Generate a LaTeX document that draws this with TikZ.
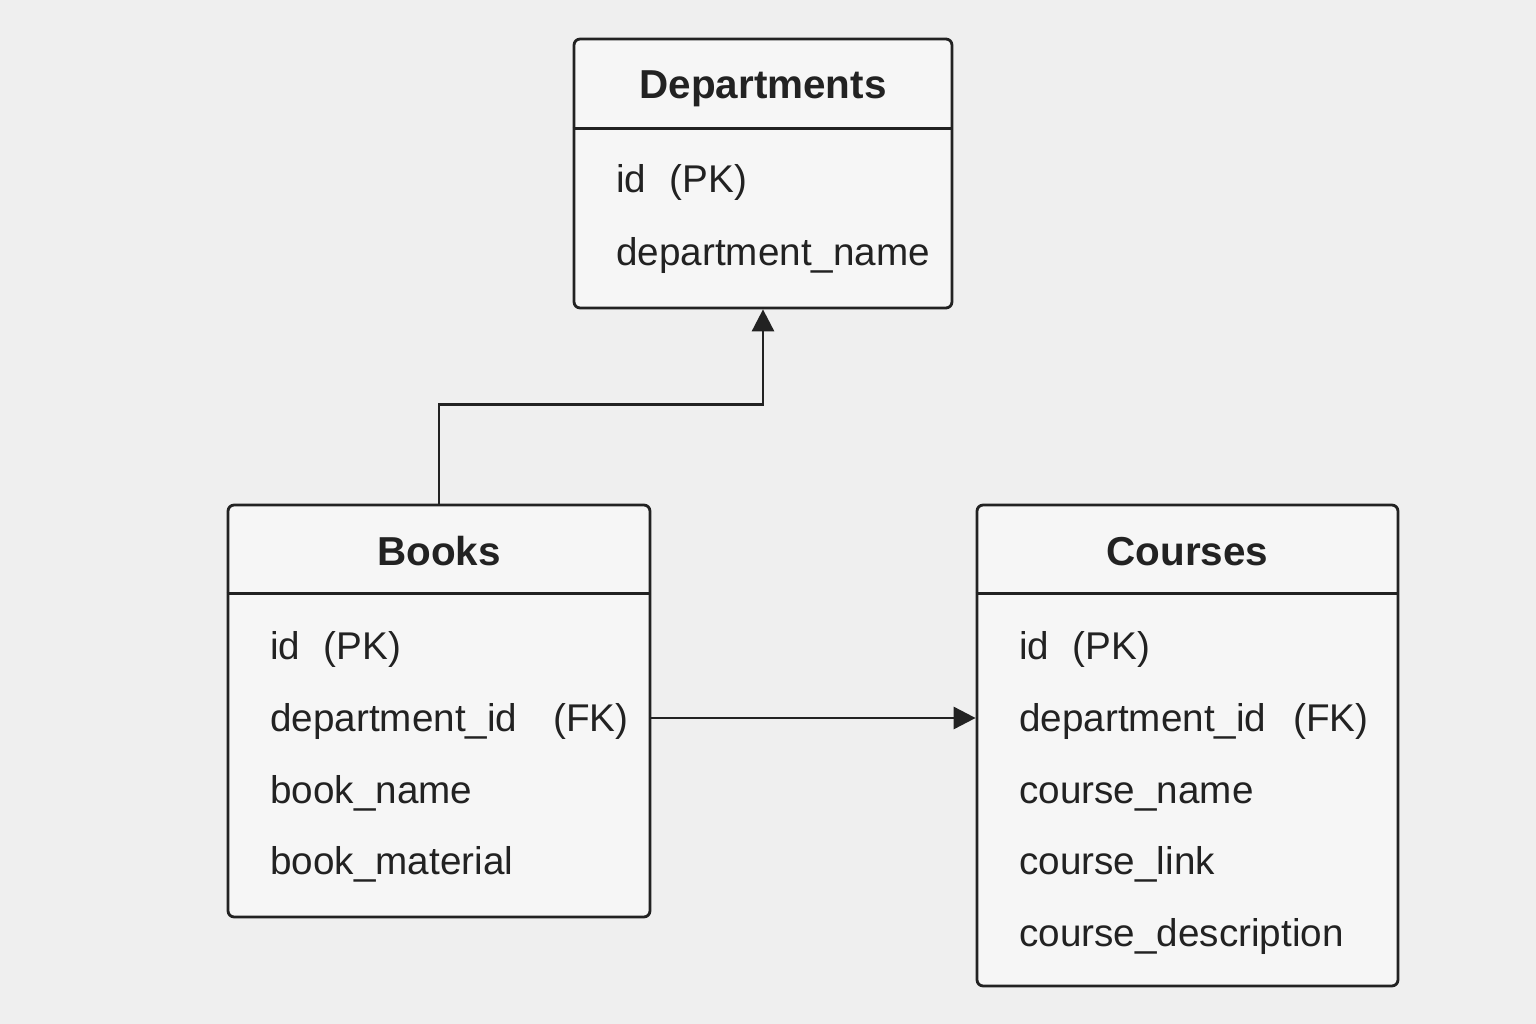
\documentclass[tikz,border=0pt]{standalone}
\usepackage{fontspec}
\setmainfont{Liberation Sans}
\usetikzlibrary{positioning}
\usetikzlibrary{arrows.meta}
\definecolor{bg}{HTML}{EFEFEF}
\definecolor{boxfill}{HTML}{F6F6F6}
\definecolor{ink}{HTML}{222222}

\begin{document}
\begin{tikzpicture}[x=0.02cm, y=-0.02cm,
  table/.style={draw=ink, line width=1.6pt, fill=boxfill, rounded corners=0.12cm, inner sep=0pt},
  title/.style={font=\fontsize{23}{28}\selectfont\bfseries, text=ink, anchor=base, inner sep=0pt},
  field/.style={font=\fontsize{22}{26}\selectfont, text=ink, anchor=base west, inner sep=0pt},
  rule/.style={draw=ink, line width=1.6pt},
  link/.style={draw=ink, line width=1.6pt, -{Triangle[length=0.44cm, width=0.44cm]}}]
%background
\fill[bg] (0,0) rectangle (1536,1024);
\useasboundingbox (0,0) rectangle (1536,1024);

%tables
\node[table, minimum width=7.56cm, minimum height=5.38cm] (dept) at (763,173.5) {};
\node[table, minimum width=8.44cm, minimum height=8.24cm] (books) at (439,711) {};
\node[table, minimum width=8.42cm, minimum height=9.62cm] (courses) at (1187.5,745.5) {};

%header lines
\draw[rule] ([yshift=-1.82cm]dept.north west) -- ([yshift=-1.82cm]dept.north east);
\draw[rule] ([yshift=-1.8cm]books.north west) -- ([yshift=-1.8cm]books.north east);
\draw[rule] ([yshift=-1.8cm]courses.north west) -- ([yshift=-1.8cm]courses.north east);

%titles
\node[title] (depttitle) at (763,99) {Departments};
\node[title] (bookstitle) at (439,565) {Books};
\node[title] (coursestitle) at (1187.5,565) {Courses};

%fields
\node[field] (deptid) at (616,193) {id\hspace{0.6em}(PK)};
\node[field] (deptname) at (616,265) {department\_name};

\node[field] (bookid) at (270,659) {id\hspace{0.6em}(PK)};
\node[field] (bookdept) at (270,731) {department\_id};
\node[field] (bookfk) at (553,731) {(FK)};
\node[field] (bookname) at (270,803) {book\_name};
\node[field] (bookmat) at (270,874) {book\_material};

\node[field] (courseid) at (1019,659) {id\hspace{0.6em}(PK)};
\node[field] (coursedept) at (1019,731) {department\_id};
\node[field] (coursefk) at (1293,731) {(FK)};
\node[field] (coursename) at (1019,803) {course\_name};
\node[field] (courselink) at (1019,874) {course\_link};
\node[field] (coursedesc) at (1019,946) {course\_description};

%links
\coordinate (fkrow) at (0,718);
\draw[link] (books.north) -- ++(0,-99) -| (dept.south);
\draw[link] (fkrow -| books.east) -- (fkrow -| courses.west);

\end{tikzpicture}
\end{document}
